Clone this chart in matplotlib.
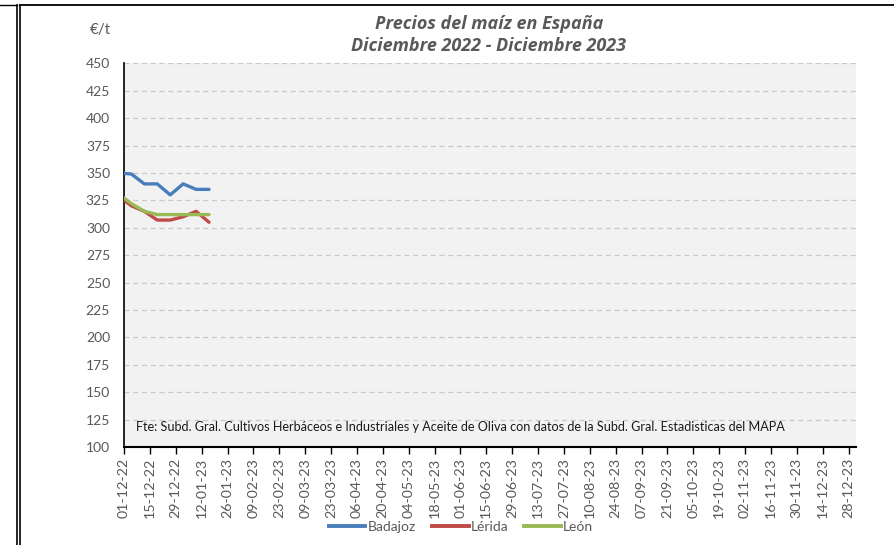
import matplotlib
matplotlib.use("Agg")
import matplotlib.pyplot as plt
import matplotlib.dates as mdates
from matplotlib.lines import Line2D
import datetime as dt

plt.rcParams['font.family'] = ['Lato', 'DejaVu Sans']

# ---- data ----
dates = ["2022-11-28", "2022-12-05", "2022-12-12", "2022-12-19",
         "2022-12-26", "2023-01-02", "2023-01-09", "2023-01-16"]
badajoz = [350, 349, 340, 340, 330, 340, 335, 335]
lerida = [329, 320, 315, 307, 307, 310, 315, 305]
leon = [331, 322, 315, 312, 312, 312, 312, 312]
series_names = ["Badajoz", "Lérida", "León"]
series_colors = ["#4A7EBB", "#BE4B48", "#98B954"]
title = "Precios del maíz en España\nDiciembre 2022 - Diciembre 2023"
unit_label = "€/t"
source = ("Fte: Subd. Gral. Cultivos Herbáceos e Industriales y Aceite de Oliva "
          "con datos de la Subd. Gral. Estadisticas del MAPA")
x_start = "2022-12-01"
x_end = "2024-01-01"
tick_step_days = 14
y_min, y_max, y_step = 100, 450, 25

x = [dt.datetime.strptime(d, "%Y-%m-%d") for d in dates]
xs = dt.datetime.strptime(x_start, "%Y-%m-%d")
xe = dt.datetime.strptime(x_end, "%Y-%m-%d")

W, H = 895, 545
fig = plt.figure(figsize=(W / 100, H / 100), dpi=100)

ax = fig.add_axes([124 / W, 1 - 447 / H, (856 - 124) / W, (447 - 63.3) / H])
ax.set_facecolor("#F2F2F2")

for vals, name, col in zip([badajoz, lerida, leon], series_names, series_colors):
    ax.plot(x, vals, color=col, lw=2.4, label=name, solid_capstyle="round",
            solid_joinstyle="round", zorder=3)

ax.set_xlim(xs, xe)
ax.set_ylim(y_min, y_max)
ax.set_yticks(range(y_min, y_max + 1, y_step))
ax.yaxis.grid(True, color="#C8C8C8", linestyle=(0, (4, 3)), lw=0.9)
ax.set_axisbelow(True)

ticks = []
t = xs
while t <= xe:
    ticks.append(t)
    t += dt.timedelta(days=tick_step_days)
ax.set_xticks(ticks)
ax.xaxis.set_major_formatter(mdates.DateFormatter("%d-%m-%y"))
ax.tick_params(axis="x", rotation=90, labelsize=10.3, labelcolor="#595959",
               length=5, width=1, color="black", direction="out", pad=3)
ax.tick_params(axis="y", labelsize=10, labelcolor="#595959", length=0, pad=10)

for s in ["top", "right"]:
    ax.spines[s].set_visible(False)
ax.spines["left"].set_color("black")
ax.spines["left"].set_linewidth(1.2)
ax.spines["bottom"].set_color("black")
ax.spines["bottom"].set_linewidth(1.5)

fig.text(136 / W, 1 - 427 / H, source, fontsize=9.05,
         color="#1a1a1a", va="center", ha="left")

fig.text(489 / W, 1 - 35 / H, title, ha="center", va="center", fontsize=13,
         fontweight="bold", fontstyle="italic", color="#595959", linespacing=1.25,
         family=["Open Sans", "DejaVu Sans"])
fig.text(100 / W, 1 - 30 / H, unit_label, ha="center", va="center", fontsize=11,
         color="#595959")

handles = [Line2D([0], [0], color=c, lw=2.8) for c in series_colors]
fig.legend(handles, series_names, loc="center", bbox_to_anchor=(461 / W, 1 - 527 / H),
           ncol=3, frameon=False, fontsize=10, labelcolor="#595959",
           handlelength=2.65, handletextpad=0.15, columnspacing=1.15)

# frame lines
fig.add_artist(Line2D([20 / W, 1], [1 - 5 / H, 1 - 5 / H], color="black", lw=1.3,
                      transform=fig.transFigure))
fig.add_artist(Line2D([0, 17 / W], [1 - 4.5 / H, 1 - 4.5 / H], color="black", lw=1.0,
                      transform=fig.transFigure))
fig.add_artist(Line2D([16.7 / W, 16.7 / W], [0, 1 - 4.5 / H], color="black", lw=1.2,
                      transform=fig.transFigure))
fig.add_artist(Line2D([20.3 / W, 20.3 / W], [0, 1 - 5 / H], color="black", lw=1.2,
                      transform=fig.transFigure))

fig.savefig("out.png", dpi=100)
